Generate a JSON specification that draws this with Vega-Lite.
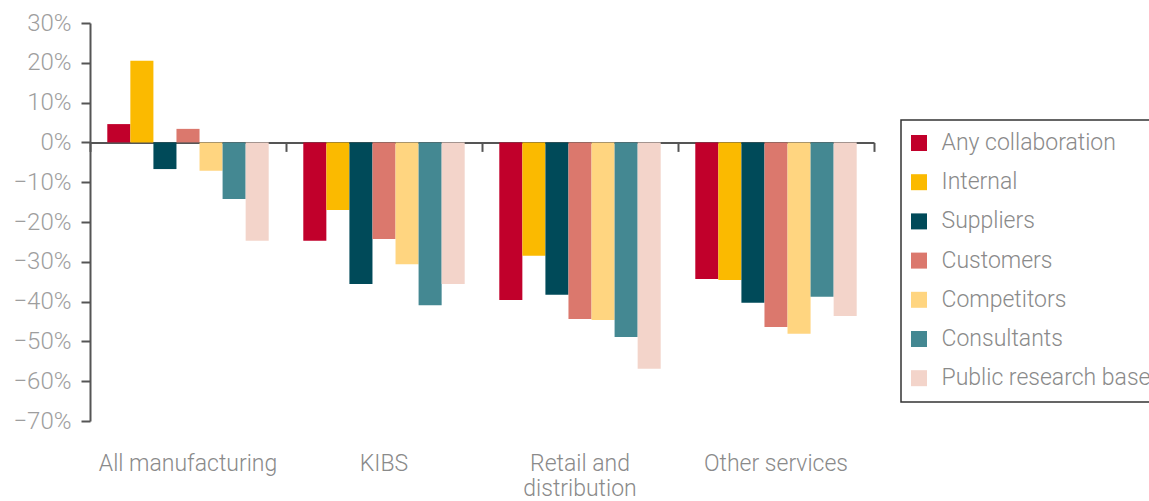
{
  "$schema": "https://vega.github.io/schema/vega-lite/v6.json",
  "width": 784,
  "height": 398,
  "autosize": "none",
  "padding": {"left": 90, "top": 23, "right": 275, "bottom": 80},
  "config": {"view": {"stroke": null}, "font": "Roboto"},
  "data": {
    "values": [
      {"sector": "All manufacturing", "source": "Any collaboration", "value": 0.046},
      {"sector": "All manufacturing", "source": "Internal", "value": 0.205},
      {"sector": "All manufacturing", "source": "Suppliers", "value": -0.067},
      {"sector": "All manufacturing", "source": "Customers", "value": 0.034},
      {"sector": "All manufacturing", "source": "Competitors", "value": -0.071},
      {"sector": "All manufacturing", "source": "Consultants", "value": -0.142},
      {"sector": "All manufacturing", "source": "Public research base", "value": -0.247},
      {"sector": "KIBS", "source": "Any collaboration", "value": -0.247},
      {"sector": "KIBS", "source": "Internal", "value": -0.170},
      {"sector": "KIBS", "source": "Suppliers", "value": -0.356},
      {"sector": "KIBS", "source": "Customers", "value": -0.243},
      {"sector": "KIBS", "source": "Competitors", "value": -0.306},
      {"sector": "KIBS", "source": "Consultants", "value": -0.409},
      {"sector": "KIBS", "source": "Public research base", "value": -0.356},
      {"sector": "Retail and distribution", "source": "Any collaboration", "value": -0.396},
      {"sector": "Retail and distribution", "source": "Internal", "value": -0.285},
      {"sector": "Retail and distribution", "source": "Suppliers", "value": -0.383},
      {"sector": "Retail and distribution", "source": "Customers", "value": -0.444},
      {"sector": "Retail and distribution", "source": "Competitors", "value": -0.446},
      {"sector": "Retail and distribution", "source": "Consultants", "value": -0.489},
      {"sector": "Retail and distribution", "source": "Public research base", "value": -0.569},
      {"sector": "Other services", "source": "Any collaboration", "value": -0.343},
      {"sector": "Other services", "source": "Internal", "value": -0.346},
      {"sector": "Other services", "source": "Suppliers", "value": -0.403},
      {"sector": "Other services", "source": "Customers", "value": -0.464},
      {"sector": "Other services", "source": "Competitors", "value": -0.481},
      {"sector": "Other services", "source": "Consultants", "value": -0.388},
      {"sector": "Other services", "source": "Public research base", "value": -0.436}
    ]
  },
  "encoding": {
    "y": {
      "field": "value", "type": "quantitative",
      "scale": {"domain": [-0.7, 0.3], "nice": false, "zero": false},
      "axis": {
        "title": null, "grid": false, "format": ".0%", "labelOverlap": false,
        "values": [-0.7, -0.6, -0.5, -0.4, -0.3, -0.2, -0.1, 0, 0.1, 0.2, 0.3],
        "domainColor": "#555555", "domainWidth": 2, "tickColor": "#555555", "tickWidth": 2,
        "tickSize": 9, "labelPadding": 10, "labelFontSize": 24, "labelFontWeight": 300,
        "labelColor": "#9e9e9e"
      }
    }
  },
  "resolve": {"axis": {"x": "independent"}},
  "layer": [
    {
      "mark": {"type": "bar"},
      "encoding": {
        "x": {
          "field": "sector", "type": "nominal",
          "sort": ["All manufacturing", "KIBS", "Retail and distribution", "Other services"],
          "scale": {"paddingInner": 0, "paddingOuter": 0},
          "axis": {
            "title": null, "labelAngle": 0, "domain": false, "ticks": false, "tickSize": 0,
            "labelFontSize": 23, "labelFontWeight": 300, "labelColor": "#8a8a8a",
            "labelPadding": 31, "labelBaseline": "top", "labelLineHeight": 25,
            "labelExpr": "datum.label == 'Retail and distribution' ? ['Retail and', 'distribution'] : datum.label"
          }
        },
        "xOffset": {
          "field": "source", "type": "nominal",
          "sort": ["Any collaboration", "Internal", "Suppliers", "Customers", "Competitors", "Consultants", "Public research base"],
          "scale": {"paddingInner": 0, "paddingOuter": 0.75}
        },
        "color": {
          "field": "source", "type": "nominal",
          "scale": {
            "domain": ["Any collaboration", "Internal", "Suppliers", "Customers", "Competitors", "Consultants", "Public research base"],
            "range": ["#C1002B", "#FBBA00", "#004A59", "#DB786D", "#FFD580", "#448892", "#F3D4CA"]
          },
          "legend": {
            "title": null, "orient": "none", "legendX": 811, "legendY": 97,
            "strokeColor": "#333333", "padding": 11.5,
            "symbolType": "square", "symbolSize": 256, "symbolStrokeWidth": 0, "symbolOffset": -5,
            "labelFontSize": 23, "labelFontWeight": 300, "labelColor": "#8a8a8a",
            "labelOffset": 11, "rowPadding": 15.2, "labelLimit": 400,
            "encode": {"legend": {"update": {"strokeWidth": {"value": 1.5}}}}
          }
        }
      }
    },
    {
      "mark": {"type": "bar", "opacity": 0},
      "encoding": {
        "x": {
          "field": "sector", "type": "nominal",
          "sort": ["All manufacturing", "KIBS", "Retail and distribution", "Other services"],
          "axis": {
            "title": null, "orient": "bottom", "offset": -278.6, "labels": false,
            "domain": true, "ticks": true, "tickBand": "extent", "tickSize": 9,
            "domainColor": "#555555", "domainWidth": 2, "tickColor": "#555555", "tickWidth": 2
          }
        }
      }
    }
  ]
}
